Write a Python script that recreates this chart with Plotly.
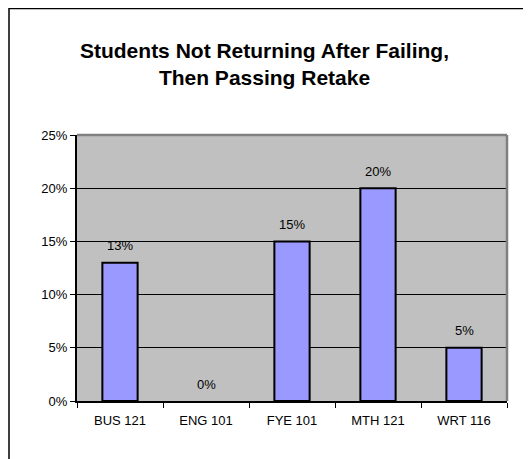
import plotly.graph_objects as go

# -- Data --
COURSES = ["BUS 121", "ENG 101", "FYE 101", "MTH 121", "WRT 116"]
NOT_RETURNING = [0.13, 0.00, 0.15, 0.20, 0.05]
LABELS = ["13%", "0%", "15%", "20%", "5%"]

TITLE = "Students Not Returning After Failing,<br>Then Passing Retake"

# -- Style --
FONT = "Liberation Sans, Arial, sans-serif"
BAR_COLOR = "#9999FF"
PLOT_BG = "#C0C0C0"
BORDER_GREY = "#808080"

# page adds an 8px body margin, so the figure is a bit smaller than the window
W, H = 523, 451
M_L, M_R, M_T, M_B = 69, 24, 127, 58
PW, PH = W - M_L - M_R, H - M_T - M_B

# empty bars get no outline (nothing is drawn for a 0% bar in the original)
outline_w = [2 if v > 0 else 0 for v in NOT_RETURNING]

fig = go.Figure(
    go.Bar(
        x=COURSES,
        y=NOT_RETURNING,
        marker=dict(color=BAR_COLOR, line=dict(color="black", width=outline_w)),
        width=0.41,
        hoverinfo="skip",
    )
)

# value labels sit a little above each bar
for course, val, lab in zip(COURSES, NOT_RETURNING, LABELS):
    fig.add_annotation(
        x=course, y=val, text=lab, showarrow=False,
        yshift=17, font=dict(family=FONT, size=13, color="black"),
    )

# grey top/right border of the plot area
fig.add_shape(type="line", xref="x domain", yref="y domain",
              x0=0, x1=1, y0=1, y1=1, line=dict(color=BORDER_GREY, width=2.5), layer="above")
fig.add_shape(type="line", xref="x domain", yref="y domain",
              x0=1, x1=1, y0=0, y1=1, line=dict(color=BORDER_GREY, width=2.5), layer="above")

# outer chart frame (runs off the right/bottom of the picture)
fig.add_shape(
    type="rect", xref="paper", yref="paper",
    x0=(1 - M_L) / PW, x1=(W + 20 - M_L) / PW,
    y0=-(H + 20 - (H - M_B)) / PH, y1=1 + (M_T - 0.5) / PH,
    line=dict(color="black", width=1.5),
)

fig.update_layout(
    width=W, height=H,
    margin=dict(l=M_L, r=M_R, t=M_T, b=M_B),
    paper_bgcolor="white",
    plot_bgcolor=PLOT_BG,
    showlegend=False,
    font=dict(family=FONT, size=13, color="black"),
    title=dict(
        text=TITLE, x=256.5 / W, xanchor="center", xref="container",
        y=1 - 50 / H, yanchor="middle",
        font=dict(family=FONT, size=21, color="black", weight="bold"),
    ),
)

fig.update_xaxes(
    showline=True, linecolor="black", linewidth=1.5,
    ticks="outside", tickson="boundaries", ticklen=5, tickcolor="black",
    ticklabelstandoff=7,
    showgrid=False, fixedrange=True,
)
fig.update_yaxes(
    range=[0, 0.25], dtick=0.05, tickformat=".0%",
    showline=True, linecolor="black", linewidth=2,
    ticks="outside", ticklen=5, tickcolor="black",
    showgrid=True, gridcolor="black", gridwidth=1,
    zeroline=False, fixedrange=True,
)

fig.write_html("out.html")
